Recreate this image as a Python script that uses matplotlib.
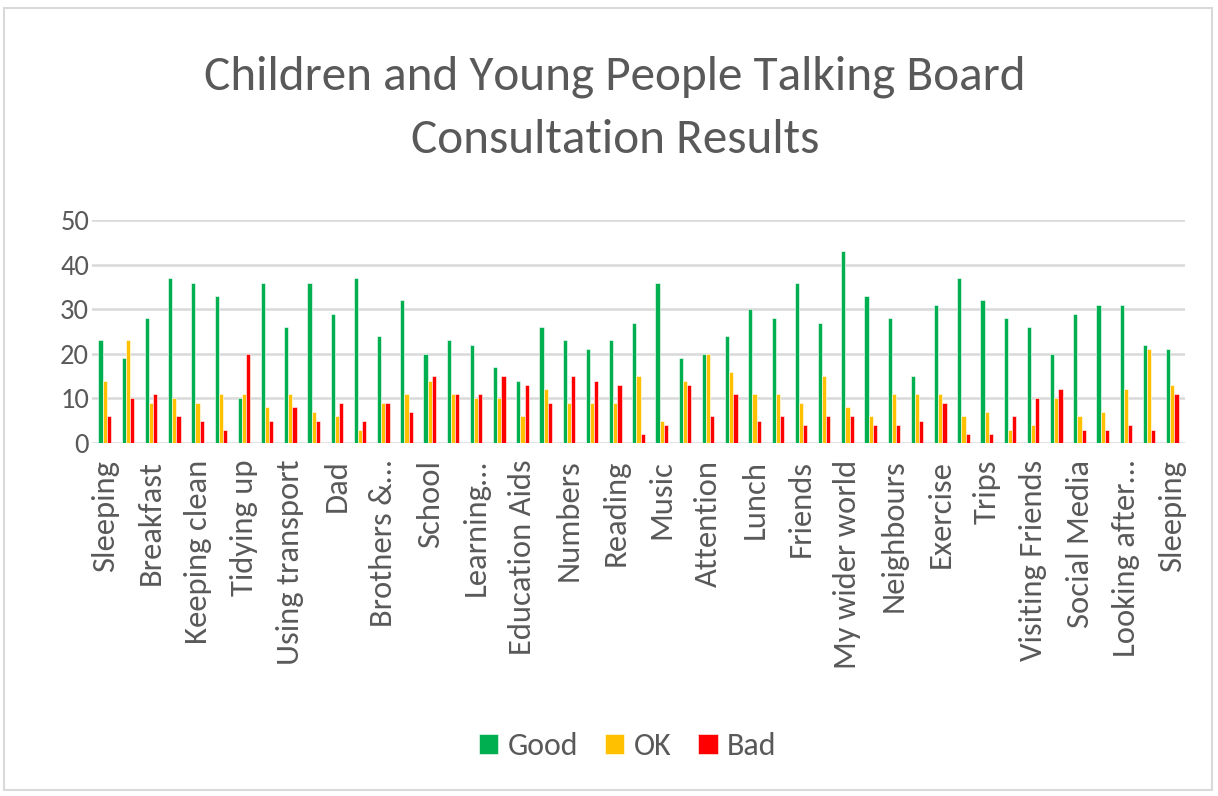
import numpy as np
import matplotlib.pyplot as plt
from matplotlib.patches import Rectangle

# only every second category is labelled on the axis
labels = ["Sleeping", "Breakfast", "Keeping clean", "Tidying up", "Using transport", "Dad",
          "Brothers &…", "School", "Learning…", "Education Aids", "Numbers", "Reading",
          "Music", "Attention", "Lunch", "Friends", "My wider world", "Neighbours",
          "Exercise", "Trips", "Visiting Friends", "Social Media", "Looking after…", "Sleeping"]

good = [23, 19, 28, 37, 36, 33, 10, 36, 26, 36, 29, 37,
        24, 32, 20, 23, 22, 17, 14, 26, 23, 21, 23, 27,
        36, 19, 20, 24, 30, 28, 36, 27, 43, 33, 28,
        15, 31, 37, 32, 28, 26, 20, 29, 31, 31, 22, 21]
ok = [14, 23, 9, 10, 9, 11, 11, 8, 11, 7, 6, 3,
      9, 11, 14, 11, 10, 10, 6, 12, 9, 9, 9, 15,
      5, 14, 20, 16, 11, 11, 9, 15, 8, 6, 11,
      11, 11, 6, 7, 3, 4, 10, 6, 7, 12, 21, 13]
bad = [6, 10, 11, 6, 5, 3, 20, 5, 8, 5, 9, 5,
       9, 7, 15, 11, 11, 15, 13, 9, 15, 14, 13, 2,
       4, 13, 6, 11, 5, 6, 4, 6, 6, 4, 4,
       5, 9, 2, 2, 6, 10, 12, 3, 3, 4, 3, 11]

grey = "#595959"
plt.rcParams['font.family'] = ['Carlito', 'Open Sans', 'DejaVu Sans']

fig = plt.figure(figsize=(12.18, 7.96), dpi=100)
fig.patches.append(Rectangle((4 / 1218, 6 / 796), 1208 / 1218, 782 / 796, transform=fig.transFigure,
                             fill=False, edgecolor="#d9d9d9", linewidth=1.5))
ax = fig.add_axes([0.0755, 0.4435, 0.8975, 0.28])

x = np.arange(len(good))
w = 0.18
ax.bar(x - w, good, w, color="#00B050", edgecolor="white", linewidth=0.4, label="Good", zorder=3)
ax.bar(x, ok, w, color="#FFC000", edgecolor="white", linewidth=0.4, label="OK", zorder=3)
ax.bar(x + w, bad, w, color="#FF0000", edgecolor="white", linewidth=0.4, label="Bad", zorder=3)

ax.set_xlim(-0.55, len(good) - 0.45)
ax.set_ylim(0, 50)
ax.set_yticks(range(0, 51, 10))
ax.yaxis.grid(True, color="#d9d9d9", linewidth=1.8, zorder=0)
ax.set_xticks(x[::2], labels, rotation=90)
ax.tick_params(axis="both", length=0, colors=grey)
ax.tick_params(axis="y", labelsize=20.5, pad=2)
ax.tick_params(axis="x", labelsize=23.5, pad=12)
for s in ax.spines.values():
    s.set_visible(False)

fig.text(0.505, 0.864, "Children and Young People Talking Board\nConsultation Results",
         ha="center", va="center", fontsize=35.5, color=grey, linespacing=1.62)

ax.legend(loc="center", bbox_to_anchor=(0.49, -1.36), ncol=3, frameon=False, fontsize=23,
          labelcolor=grey, handlelength=0.6, handleheight=0.6, handletextpad=0.3, columnspacing=0.85)

fig.savefig("out.png", dpi=100)
